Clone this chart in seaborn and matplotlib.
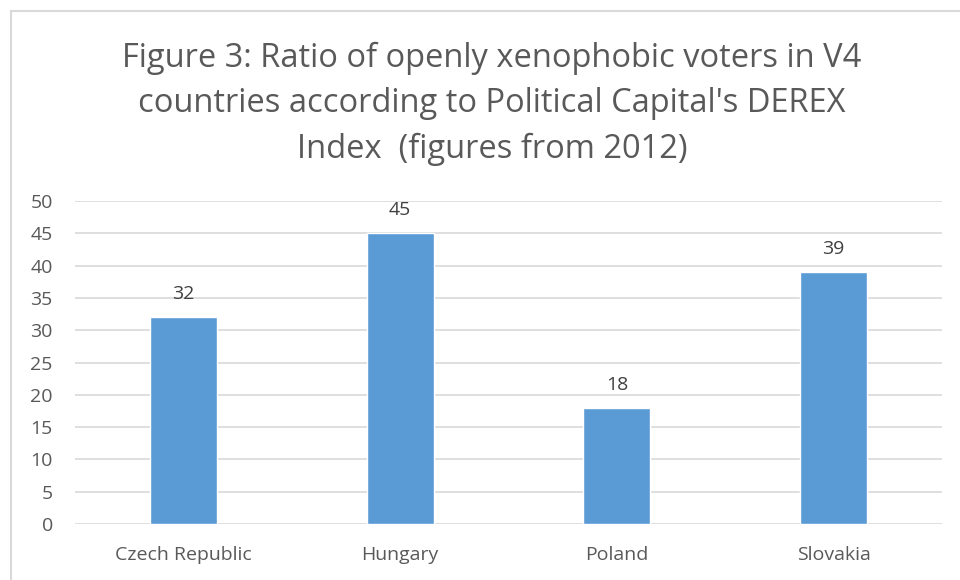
import matplotlib
matplotlib.use("Agg")
import matplotlib.pyplot as plt
import seaborn as sns
import pandas as pd
from matplotlib.patches import Rectangle

# === DATA ===
countries = ["Czech Republic", "Hungary", "Poland", "Slovakia"]
ratios = [32, 45, 18, 39]
y_ticks = [0, 5, 10, 15, 20, 25, 30, 35, 40, 45, 50]
title = "Figure 3: Ratio of openly xenophobic voters in V4\ncountries according to Political Capital's DEREX\nIndex  (figures from 2012)"

BAR_COLOR = "#5B9BD5"
TEXT_COLOR = "#595959"
GRID_COLOR = "#D9D9D9"

sns.set_style("white")
plt.rcParams["font.family"] = ["Open Sans", "DejaVu Sans"]

df = pd.DataFrame({"country": countries, "ratio": ratios})

fig = plt.figure(figsize=(9.6, 5.8), dpi=100)
ax = fig.add_axes([75 / 960, 1 - 524 / 580, 867 / 960, 323 / 580])

sns.barplot(data=df, x="country", y="ratio", color=BAR_COLOR, width=0.31,
            saturation=1, ax=ax, zorder=3)

ax.set_ylim(0, 50)
ax.set_yticks(y_ticks)
ax.set_xlim(-0.5, len(countries) - 0.5)
ax.yaxis.grid(True, color=GRID_COLOR, linewidth=1.2, zorder=0)
ax.set_axisbelow(True)
for s in ax.spines.values():
    s.set_visible(False)
ax.set_xlabel("")
ax.set_ylabel("")
ax.tick_params(axis="both", length=0, labelsize=14, colors=TEXT_COLOR)
ax.tick_params(axis="x", pad=16)
ax.tick_params(axis="y", pad=16)

for i, v in enumerate(ratios):
    ax.annotate(str(v), (i, v), xytext=(0, 10), textcoords="offset points",
                ha="center", va="bottom", fontsize=14, color="#404040")

fig.text(492 / 960, 1 - 104 / 580, title, ha="center", va="center",
         fontsize=23.5, color=TEXT_COLOR, linespacing=1.5)

# chart frame
fig.patches.append(Rectangle((11 / 960, -0.1), 1.2, 1 - 11 / 580 + 0.1,
                             transform=fig.transFigure, fill=False,
                             edgecolor=GRID_COLOR, linewidth=1.5))

fig.savefig("out.png", dpi=100)
